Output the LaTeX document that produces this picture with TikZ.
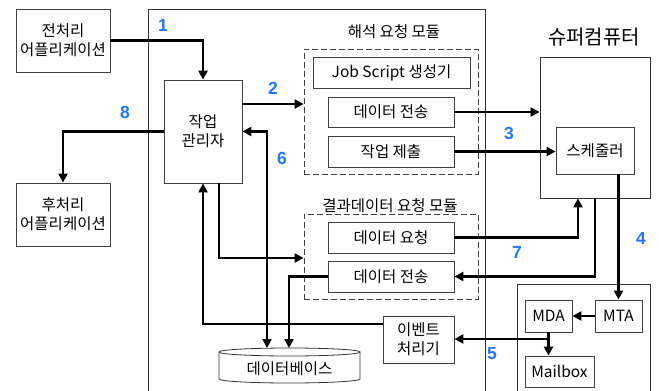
\documentclass[tikz,border=0pt]{standalone}
\usepackage{fontspec}
\setmainfont{Noto Sans CJK KR}
\newfontfamily\numfont{Liberation Sans}
\usetikzlibrary{arrows.meta}
\definecolor{numblue}{RGB}{30,120,255}
\tikzset{
  box/.style={draw=black!75, line width=0.8pt, inner sep=0pt, align=center,
    font=\fontsize{15.5}{19}\selectfont},
  modbox/.style={draw=black!75, line width=0.8pt, dash pattern=on 6pt off 3pt, inner sep=0pt},
  frame/.style={draw=black!80, line width=0.8pt},
  arr/.style={line width=2.8pt, -{Triangle[length=9pt,width=9pt]}},
  darr/.style={line width=2.8pt, {Triangle[length=9pt,width=9pt]}-{Triangle[length=9pt,width=9pt]}},
  num/.style={text=numblue, font=\numfont\bfseries\fontsize{17.5}{18}\selectfont},
  lbl/.style={font=\fontsize{15.5}{17}\selectfont},
}
\begin{document}
\begin{tikzpicture}[x=1pt,y=-1pt]
\useasboundingbox (0,0) rectangle (659,391);
\clip (0,0) rectangle (659,391);
\fill[white] (0,0) rectangle (659,391);

% frames
\draw[frame] (148,9) rectangle (485,420);
\draw[frame] (517,284) rectangle (650,420);

% outer applications
\node[box, minimum width=94pt, minimum height=63pt] (pre) at (63,40.5) {전처리\\어플리케이션};
\node[box, minimum width=94pt, minimum height=63pt] (post) at (63,214.5) {후처리\\어플리케이션};
\node[box, minimum width=78pt, minimum height=103pt] (mgr) at (203,131.5) {작업\\관리자};

% module 1
\node[lbl] (mod1lbl) at (394,32) {해석 요청 모듈};
\node[modbox, minimum width=174pt, minimum height=125pt] (mod1) at (391,111.5) {};
\node[box, minimum width=157pt, minimum height=31pt] (job) at (391.5,72.5) {Job Script 생성기};
\node[box, minimum width=126pt, minimum height=30pt] (send1) at (391,112) {데이터 전송};
\node[box, minimum width=126pt, minimum height=31pt] (submit) at (391,151.5) {작업 제출};

% module 2
\node[lbl] (mod2lbl) at (390,206) {결과데이터 요청 모듈};
\node[modbox, minimum width=174pt, minimum height=85pt] (mod2) at (391,256.5) {};
\node[box, minimum width=126pt, minimum height=31pt] (req) at (391,237.5) {데이터 요청};
\node[box, minimum width=126pt, minimum height=31pt] (send2) at (391,276.5) {데이터 전송};

% event handler
\node[box, minimum width=71pt, minimum height=47pt] (event) at (418.5,339.5) {이벤트\\처리기};

% supercomputer
\node[font=\fontsize{20}{22}\selectfont] (superlbl) at (594,37) {슈퍼컴퓨터};
\node[frame, inner sep=0pt, minimum width=110pt, minimum height=141pt] (super) at (595,127.5) {};
\node[box, minimum width=78pt, minimum height=47pt] (sched) at (595,150.5) {스케줄러};

% mail
\node[box, minimum width=47pt, minimum height=32pt] (MDA) at (548.5,316) {MDA};
\node[box, minimum width=47pt, minimum height=32pt] (MTA) at (618.5,316) {MTA};
\node[box, minimum width=69pt, minimum height=31pt] (mailbox) at (559.5,371.5) {Mailbox};

% database
\draw[frame] (219,352) -- (219,379) arc[start angle=180, end angle=360, x radius=70.5pt, y radius=4pt] -- (360,352);
\draw[frame] (289.5,352) ellipse [x radius=70.5pt, y radius=4pt];
\node[lbl] (db) at (289.5,368.5) {데이터베이스};
\coordinate (dbA) at (267,348);
\coordinate (dbB) at (289,348);

% connectors
\draw[arr] (pre.east) -| (mgr.north);
\draw[arr] (mgr.east |- 0,104) -- (mod1.west |- 0,104);
\draw[arr] (send1.east) -- (super.west |- send1.east);
\draw[arr] (submit.east) -- (sched.west |- submit.east);
\draw[arr] (mgr.west) -| (post.north);
\draw[darr] (dbA) -- (dbA |- mgr.east) -- (mgr.east);
\draw[arr] (mgr.south -| 219,0) |- (mod2.west |- 0,258);
\draw[arr] (event.west |- 0,324) -| (mgr.south);
\draw[arr] (send2.west) -| (dbB);
\draw[arr] (req.east) -| (super.south -| 578,0);
\draw[arr] (super.south) |- (send2.east);
\draw[arr] (sched.south -| MTA.north) -- (MTA.north);
\draw[arr] (MTA.west) -- (MDA.east);
\draw[arr] (MDA.south) -- (MDA.south |- mailbox.north);
\draw[arr] (MDA.south |- 0,339) -- (event.east |- 0,339);

% numbers
\node[num] (n1) at (163,25) {1};
\node[num] (n2) at (273,88) {2};
\node[num] (n3) at (509,133) {3};
\node[num] (n4) at (641,238) {4};
\node[num] (n5) at (492,354) {5};
\node[num] (n6) at (282,158) {6};
\node[num] (n7) at (517,252) {7};
\node[num] (n8) at (125,112) {8};
\end{tikzpicture}
\end{document}
